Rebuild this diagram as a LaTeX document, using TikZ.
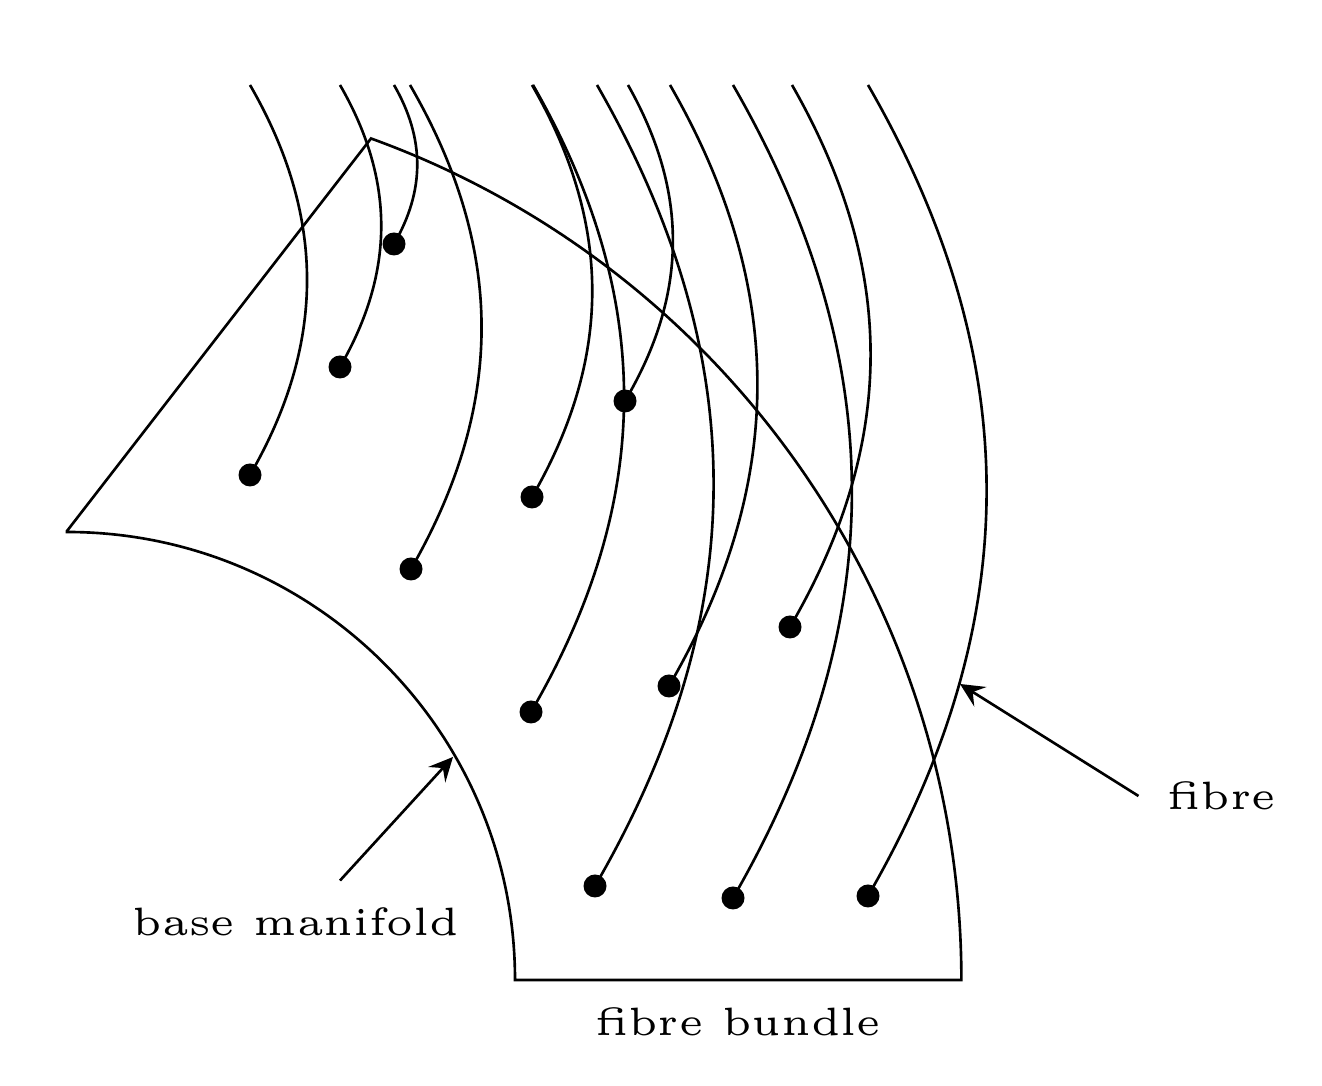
\documentclass[tikz,border=0pt]{standalone}
\usetikzlibrary{arrows.meta,positioning,calc}
\tikzset{every picture/.style={line width=1.5pt}}
\tikzset{
  dot/.style={circle,fill=black,inner sep=0pt,minimum size=0.46cm},
  fibreline/.style={bend right=30},
  pointer/.style={-{Stealth[length=0.48cm,width=0.46cm,inset=0.18cm]}},
  lbltext/.style={font=\fontsize{5}{6}\selectfont,scale=4.5}
}

\begin{document}
\begin{tikzpicture}
    \useasboundingbox (0,0) rectangle (26.44,21.72);

    % 底流形: 环形扇区
    \draw (1.34,11.1) -- (7.42,18.95) arc[start angle=70.1,end angle=0,radius=17.9]
        -- (10.3,2.12) arc[start angle=0,end angle=90,radius=8.96] -- cycle;

    % 点与纤维
    \foreach \i/\x/\y/\tx in {1/5.00/12.22/5.00, 2/6.80/14.38/6.80, 3/7.88/16.84/7.88,
        4/8.22/10.34/8.20, 5/10.64/11.78/10.64, 6/12.50/13.70/12.56,
        7/10.62/7.48/10.66, 8/13.38/8.00/13.40, 9/15.80/9.18/15.84,
        10/11.90/4.00/11.94, 11/14.66/3.76/14.66, 12/17.36/3.80/17.36} {
        \node[dot] (d\i) at (\x,\y) {};
        \coordinate (t\i) at (\tx,20.02);
        \draw (d\i.center) to[fibreline] (t\i);
    }

    % 标注
    \node[lbltext] (fibrelbl) at (24.43,5.80) {fibre};
    \coordinate (fibrehead) at (19.20,8.04);
    \draw[pointer] ($(fibrelbl.west)+(0.07,0)$) -- (fibrehead);

    \node[lbltext] (baselbl) at (5.92,3.29) {base manifold};
    \coordinate (basehead) at (9.06,6.58);
    \draw[pointer] ($(baselbl.north)+(0.88,-0.11)$) -- (basehead);

    \node[lbltext] (bundlelbl) at (14.76,1.29) {fibre bundle};
\end{tikzpicture}
\end{document}
